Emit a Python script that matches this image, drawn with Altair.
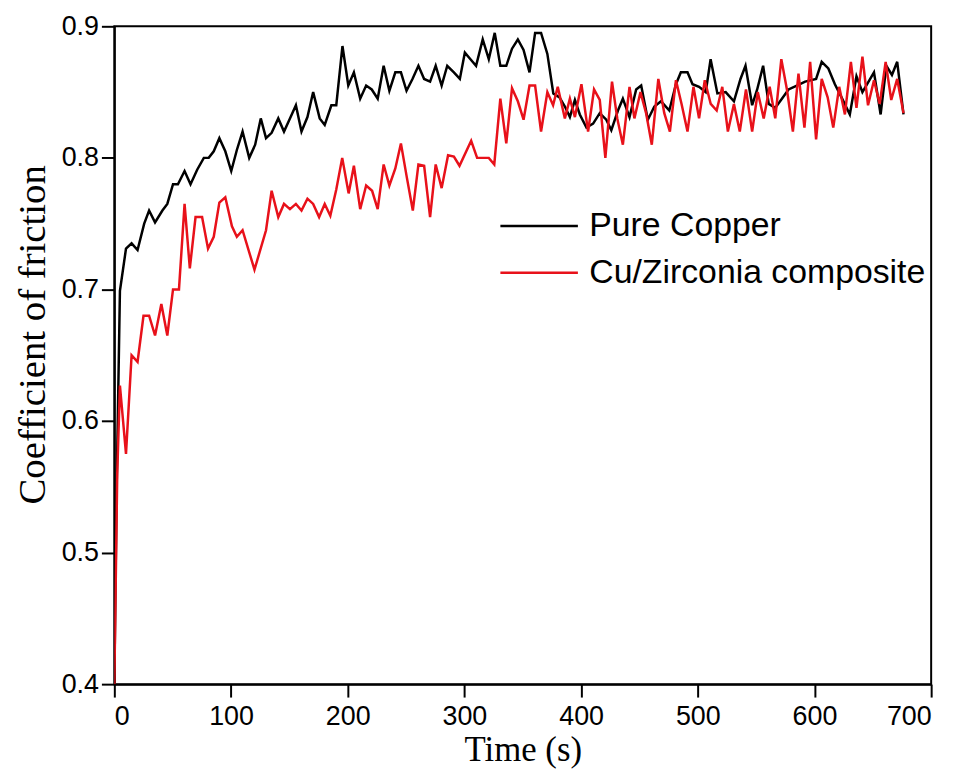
import altair as alt
import pandas as pd

series_names = ["Pure Copper", "Cu/Zirconia composite"]
series_colors = ["#000000", "#e8111a"]

time_cu = [0, 2, 4.8, 10, 14.8, 19.9, 25.6, 29.8, 34.9, 41.2, 45.4, 50.3, 54.5, 60.2, 65.3, 71, 76.7, 80.9,
           85.2, 90, 95.1, 100.2, 105, 109.9, 115.6, 120.7, 125.5, 130, 134.8, 140.5, 145.4, 150.5, 155.6,
           160.4, 165.5, 170.4, 176, 180.3, 186, 190.2, 195.5, 200.5, 205.3, 210.7, 215.8, 220.6, 225.7,
           230.8, 235.7, 240.8, 245.6, 250.4, 255.5, 260.6, 265.5, 270.6, 275.4, 280.5, 285.3, 291, 296.1,
           300.4, 305.2, 310, 315.7, 320.9, 326, 330.8, 335.9, 340.8, 345.8, 350.7, 355.8, 360.6, 365.7,
           371.1, 376.2, 381.5, 386.1, 390.4, 394.7, 398.9, 404.6, 410.3, 416, 421.6, 425.9, 431.6, 435.8,
           441.5, 447.2, 451.5, 457.2, 462.8, 468.5, 475.6, 481.3, 485.5, 491.2, 495.5, 501.1, 506.8, 511,
           516.8, 523.9, 531, 536.6, 540.9, 546.6, 550.9, 556, 560.8, 566.4, 572.1, 577.8, 584.9, 592,
           601.4, 606.2, 611.9, 617.5, 623.2, 630.3, 636, 641.1, 651, 656.7, 661.6, 666.4, 670.9, 676.3]
cof_cu = [0.40, 0.55, 0.699, 0.731, 0.735, 0.730, 0.750, 0.760, 0.751, 0.760, 0.765, 0.780, 0.780, 0.790,
          0.780, 0.791, 0.800, 0.800, 0.805, 0.815, 0.805, 0.790, 0.806, 0.820, 0.800, 0.810, 0.830, 0.815,
          0.819, 0.830, 0.820, 0.830, 0.840, 0.820, 0.831, 0.850, 0.830, 0.825, 0.840, 0.840, 0.885, 0.855,
          0.865, 0.845, 0.855, 0.852, 0.845, 0.870, 0.851, 0.865, 0.865, 0.851, 0.860, 0.870, 0.860, 0.858,
          0.870, 0.855, 0.870, 0.865, 0.860, 0.880, 0.875, 0.870, 0.890, 0.875, 0.895, 0.870, 0.870, 0.883,
          0.890, 0.882, 0.865, 0.895, 0.895, 0.879, 0.849, 0.846, 0.839, 0.831, 0.844, 0.833, 0.823, 0.826,
          0.834, 0.829, 0.821, 0.836, 0.845, 0.831, 0.852, 0.855, 0.829, 0.839, 0.843, 0.836, 0.856, 0.865,
          0.865, 0.856, 0.854, 0.850, 0.875, 0.849, 0.850, 0.843, 0.860, 0.870, 0.840, 0.852, 0.870, 0.841,
          0.838, 0.845, 0.852, 0.855, 0.858, 0.860, 0.873, 0.868, 0.856, 0.846, 0.833, 0.862, 0.850, 0.865,
          0.833, 0.870, 0.863, 0.873, 0.833]

time_zr = [0, 2.5, 4.8, 10, 14.8, 19.9, 25, 29.8, 34.9, 40.3, 45.4, 50.3, 55.4, 60.2, 64.7, 69.6, 75.2,
           80.3, 85.2, 90, 95.1, 100.8, 105, 109.9, 120.1, 130, 134.8, 140.5, 145.4, 150.5, 155.6, 160.4,
           165.5, 170.4, 175.5, 180.3, 185.1, 190.2, 195.3, 200.8, 205.3, 210.7, 215.8, 220.9, 225.7, 230.8,
           235.7, 240.8, 245.6, 250.7, 255.8, 260.6, 265.5, 270.6, 275.4, 280.5, 286, 291, 295.8, 305.8,
           310.9, 315.7, 320.9, 325.6, 330.8, 335.9, 340.8, 345.8, 350.7, 355.8, 360.6, 365.7, 371.1, 376,
           380, 386.1, 390.4, 394.7, 400.3, 406, 411.1, 416, 420.8, 426.5, 431, 435.8, 441.5, 445.7, 450.9,
           455.7, 460.6, 466.2, 471.3, 476.1, 481.3, 486.1, 491.2, 496.3, 501.1, 506, 511.1, 516.2, 521,
           525.8, 531, 536, 541.3, 546.6, 551.4, 556.5, 561.6, 566.4, 571.6, 576.4, 581.5, 586.3, 591.4,
           596.3, 601.4, 606.2, 611.3, 616.1, 621.2, 626.1, 631.2, 636, 641.1, 645.9, 651, 655.9, 661,
           665.8, 670.9, 676.3]
cof_zr = [0.40, 0.56, 0.627, 0.575, 0.650, 0.645, 0.680, 0.680, 0.665, 0.689, 0.665, 0.700, 0.700, 0.765,
          0.716, 0.755, 0.755, 0.731, 0.740, 0.766, 0.770, 0.748, 0.740, 0.745, 0.715, 0.745, 0.775, 0.755,
          0.765, 0.761, 0.765, 0.760, 0.769, 0.765, 0.755, 0.765, 0.756, 0.776, 0.800, 0.773, 0.794, 0.761,
          0.779, 0.775, 0.761, 0.795, 0.779, 0.792, 0.811, 0.785, 0.760, 0.795, 0.794, 0.755, 0.795, 0.777,
          0.802, 0.801, 0.794, 0.813, 0.800, 0.800, 0.800, 0.795, 0.845, 0.811, 0.853, 0.843, 0.829, 0.855,
          0.855, 0.820, 0.850, 0.840, 0.854, 0.830, 0.845, 0.831, 0.856, 0.820, 0.852, 0.844, 0.800, 0.858,
          0.830, 0.810, 0.854, 0.830, 0.850, 0.834, 0.810, 0.860, 0.834, 0.820, 0.859, 0.841, 0.820, 0.854,
          0.830, 0.859, 0.841, 0.836, 0.854, 0.820, 0.841, 0.820, 0.852, 0.820, 0.850, 0.830, 0.854, 0.830,
          0.875, 0.852, 0.820, 0.864, 0.823, 0.873, 0.814, 0.860, 0.846, 0.823, 0.854, 0.833, 0.873, 0.838,
          0.877, 0.840, 0.859, 0.841, 0.873, 0.844, 0.860, 0.834]

x_ticks = [0, 100, 200, 300, 400, 500, 600, 700]
y_ticks = [0.4, 0.5, 0.6, 0.7, 0.8, 0.9]

df = pd.concat([
    pd.DataFrame({"Time": time_cu, "COF": cof_cu, "Sample": series_names[0], "order": range(len(time_cu))}),
    pd.DataFrame({"Time": time_zr, "COF": cof_zr, "Sample": series_names[1], "order": range(len(time_zr))}),
])

chart = alt.Chart(df).mark_line(strokeWidth=2.5, clip=True).encode(
    x=alt.X("Time:Q",
            scale=alt.Scale(domain=[0, 700], nice=False),
            axis=alt.Axis(values=x_ticks, title="Time (s)", format="d",
                          labelFont="Liberation Sans Narrow, Arial Narrow, Liberation Sans",
                          labelFontSize=27, labelPadding=7,
                          titleFont="Liberation Serif", titleFontSize=35, titlePadding=3)),
    y=alt.Y("COF:Q",
            scale=alt.Scale(domain=[0.4, 0.9], nice=False, zero=False),
            axis=alt.Axis(values=y_ticks, title="Coefficient of friction", format=".1f",
                          labelFont="Liberation Sans", labelFontSize=27, labelPadding=3,
                          titleFont="Liberation Serif", titleFontSize=39, titlePadding=9,
                          titleY=310)),
    color=alt.Color("Sample:N",
                    scale=alt.Scale(domain=series_names, range=series_colors),
                    legend=alt.Legend(title=None, orient="none", legendX=387, legendY=186,
                                      symbolType="stroke", symbolSize=6084, symbolStrokeWidth=2.5,
                                      clipHeight=30, rowPadding=13, labelOffset=10, labelLimit=0,
                                      labelFont="Liberation Sans", labelFontSize=34,
                                      labelColor="black", padding=0)),
    order="order:Q",
).properties(
    width=822, height=662,
    autosize=alt.AutoSizeParams(type="none"),
    padding={"left": 107, "top": 16, "right": 25, "bottom": 88},
).configure_view(
    stroke="black", strokeWidth=2
).configure_axis(
    domainColor="black", domainWidth=2, tickColor="black", tickWidth=2, tickSize=13,
    grid=False, labelColor="black", titleColor="black", titleFontWeight="normal"
)

chart.save("out.html", embed_options={"renderer": "svg", "actions": False})
